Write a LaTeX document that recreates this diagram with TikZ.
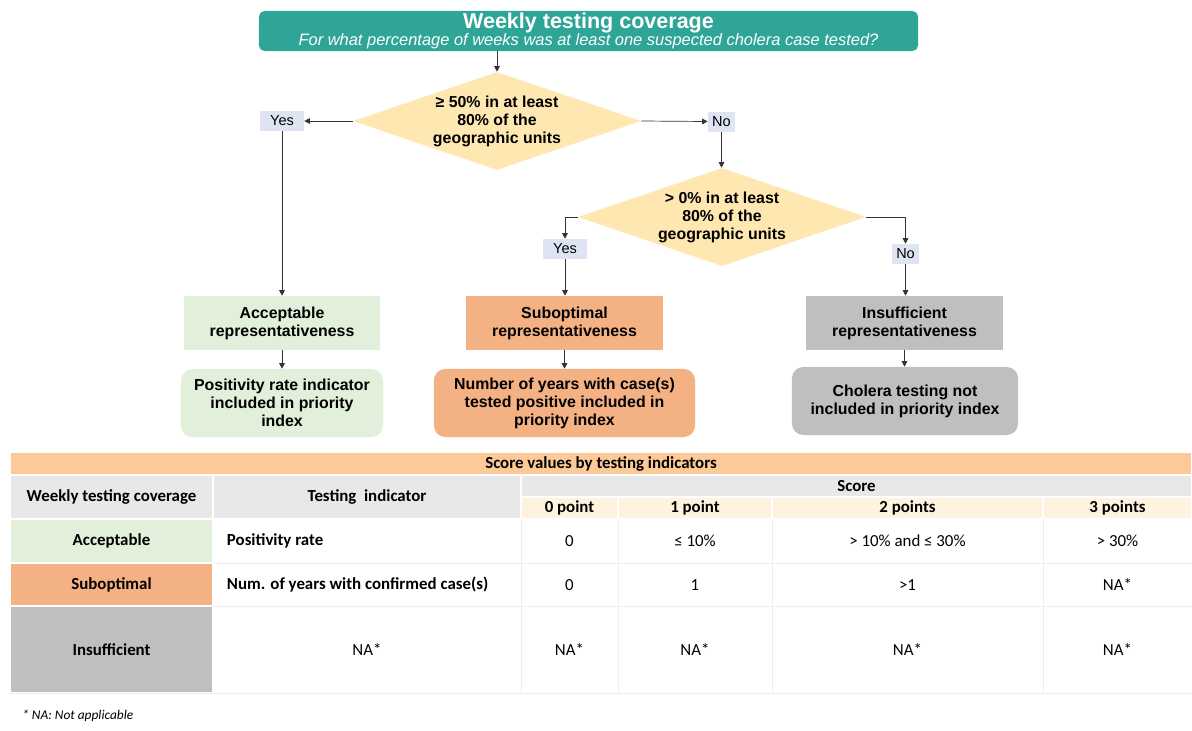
\documentclass[tikz,border=0pt]{standalone}
\usepackage{fontspec}
\setmainfont{Liberation Sans}
\newfontfamily\tabfont{Carlito}
\usetikzlibrary{shapes.geometric, positioning, arrows.meta}
\definecolor{myteal}{RGB}{46,165,151}
\definecolor{myyellow}{RGB}{255,231,178}
\definecolor{mylabel}{RGB}{222,228,242}
\definecolor{mygreen}{RGB}{226,239,218}
\definecolor{mysalmon}{RGB}{244,177,131}
\definecolor{mygray}{RGB}{191,191,191}
\definecolor{myorange}{RGB}{252,201,152}
\definecolor{myhead}{RGB}{232,232,232}
\definecolor{mycream}{RGB}{255,242,222}
\definecolor{myline}{RGB}{238,238,238}

\begin{document}
\begin{tikzpicture}[x=0.025cm, y=-0.025cm,
    arr/.style={-{Triangle[length=4pt, width=4pt]}, draw=black!80, line width=0.5pt},
    decision/.style={diamond, fill=myyellow, aspect=2.94, minimum width=7.2cm, minimum height=2.45cm,
        inner sep=0pt, align=center, font=\fontsize{11.3}{12.8}\selectfont\bfseries},
    answer/.style={fill=mylabel, inner sep=0pt, minimum height=0.5cm, font=\fontsize{10.3}{12}\selectfont},
    outcome/.style={minimum width=4.9cm, minimum height=1.35cm, inner sep=0pt, align=center,
        font=\fontsize{11.3}{12.8}\selectfont\bfseries},
    result/.style={rounded corners=8pt, minimum height=1.7cm, inner sep=0pt, align=center,
        font=\fontsize{11.3}{12.8}\selectfont\bfseries},
    cell/.style={font=\tabfont\fontsize{12}{14}\selectfont},
    bcell/.style={font=\tabfont\fontsize{12}{14}\selectfont\bfseries},
    box/.style={draw=white, line width=1pt}]
    \useasboundingbox (0,0) rectangle (1192,731);

    % Title
    \node[fill=myteal, rounded corners=4pt, minimum width=16.475cm, minimum height=1cm,
        inner sep=0pt, text=white, align=center] (title) at (588.5, 31)
        {{\fontsize{15.3}{17}\selectfont\bfseries Weekly testing coverage}\\[0pt]
         {\fontsize{11.7}{13}\selectfont\itshape For what percentage of weeks was at least one suspected cholera case tested?}};

    % Decisions
    \node[decision] (d1) at (497, 121) {≥ 50\% in at least\\80\% of the\\geographic units};
    \node[decision] (d2) at (722, 217) {> 0\% in at least\\80\% of the\\geographic units};
    \node[answer, minimum width=1.1cm] (yes1) at (282, 121) {Yes};
    \node[answer, minimum width=0.675cm] (no1) at (721.5, 121.5) {No};
    \node[answer, minimum width=1.1cm] (yes2) at (565, 249) {Yes};
    \node[answer, minimum width=0.675cm] (no2) at (905.5, 254) {No};

    % Representativeness
    \node[outcome, fill=mygreen] (acc) at (282, 323) {Acceptable\\representativeness};
    \node[outcome, fill=mysalmon] (sub) at (564.5, 323) {Suboptimal\\representativeness};
    \node[outcome, fill=mygray] (ins) at (904.5, 323) {Insufficient\\representativeness};

    % Results
    \node[result, fill=mygreen, minimum width=5.05cm] (pos) at (282, 403)
        {Positivity rate indicator\\included in priority\\index};
    \node[result, fill=mysalmon, minimum width=6.525cm] (num) at (564.5, 403)
        {Number of years with case(s)\\tested positive included in\\priority index};
    \node[result, fill=mygray, minimum width=5.65cm] (cho) at (905, 401)
        {Cholera testing not\\included in priority index};

    % Arrows
    \draw[arr] (d1.north |- title.south) -- (d1.north);
    \draw[arr] (d1.west) -- (yes1.east);
    \draw[arr] (d1.east) -- (no1.west);
    \draw[arr] (yes1.south) -- (acc.north);
    \draw[arr] (no1.south) -- (d2.north -| no1.south);
    \draw[arr] (d2.west) -| (yes2.north);
    \draw[arr] (d2.east) -| (no2.north);
    \draw[arr] (yes2.south) -- (sub.north -| yes2.south);
    \draw[arr] (no2.south) -- (ins.north -| no2.south);
    \draw[arr] (acc.south) -- (pos.north);
    \draw[arr] (sub.south) -- (num.north);
    \draw[arr] (ins.south) -- (cho.north -| ins.south);

    % Table cells
    \filldraw[box, fill=myorange] (10, 452) rectangle (1192, 475);
    \filldraw[box, fill=myhead] (10, 475) rectangle (213, 519);
    \filldraw[box, fill=myhead] (213, 475) rectangle (521, 519);
    \filldraw[box, fill=myhead] (521, 475) rectangle (1192, 497);
    \filldraw[box, fill=mycream] (521, 497) rectangle (618, 519);
    \filldraw[box, fill=mycream] (618, 497) rectangle (772, 519);
    \filldraw[box, fill=mycream] (772, 497) rectangle (1043, 519);
    \filldraw[box, fill=mycream] (1043, 497) rectangle (1192, 519);
    \filldraw[box, fill=mygreen] (10, 519) rectangle (213, 563);
    \filldraw[box, fill=mysalmon] (10, 563) rectangle (213, 606);
    \filldraw[box, fill=mygray] (10, 606) rectangle (213, 693);
    % Table rules
    \draw[myline] (213, 563) -- (1192, 563);
    \draw[myline] (213, 606) -- (1192, 606);
    \draw[myline] (10, 693) -- (1192, 693);
    \draw[myline] (521, 519) -- (521, 693);
    \draw[myline] (618, 519) -- (618, 693);
    \draw[myline] (772, 519) -- (772, 693);
    \draw[myline] (1043, 519) -- (1043, 693);

    % Table header
    \node[bcell] (thead) at (601, 464) {Score values by testing indicators};
    \node[bcell] (hcov) at (111.5, 497) {Weekly testing coverage};
    \node[bcell] (hind) at (367, 497) {Testing\ \ indicator};
    \node[bcell] (hscore) at (856.5, 486) {Score};
    \node[bcell] (hp0) at (569.5, 508) {0 point};
    \node[bcell] (hp1) at (695, 508) {1 point};
    \node[bcell] (hp2) at (907.5, 508) {2 points};
    \node[bcell] (hp3) at (1117.5, 508) {3 points};

    % Table rows
    \node[bcell] (racc) at (111.5, 541) {Acceptable};
    \node[bcell, anchor=west] (iacc) at (222, 541) {Positivity rate};
    \node[cell] (a0) at (569.5, 541) {0};
    \node[cell] (a1) at (695, 541) {≤ 10\%};
    \node[cell] (a2) at (907.5, 541) {> 10\% and ≤ 30\%};
    \node[cell] (a3) at (1117.5, 541) {> 30\%};
    \node[bcell] (rsub) at (111.5, 585) {Suboptimal};
    \node[bcell, anchor=west] (isub) at (222, 585) {Num. of years with confirmed case(s)};
    \node[cell] (s0) at (569.5, 585) {0};
    \node[cell] (s1) at (695, 585) {1};
    \node[cell] (s2) at (907.5, 585) {>1};
    \node[cell] (s3) at (1117.5, 585) {NA*};
    \node[bcell] (rins) at (111.5, 650) {Insufficient};
    \node[cell] (iins) at (367, 650) {NA*};
    \node[cell] (n0) at (569.5, 650) {NA*};
    \node[cell] (n1) at (695, 650) {NA*};
    \node[cell] (n2) at (907.5, 650) {NA*};
    \node[cell] (n3) at (1117.5, 650) {NA*};

    % Footnote
    \node[anchor=west, inner sep=0pt, font=\tabfont\fontsize{9.5}{11}\selectfont\itshape] (note) at (22, 716)
        {* NA: Not applicable};
\end{tikzpicture}
\end{document}
